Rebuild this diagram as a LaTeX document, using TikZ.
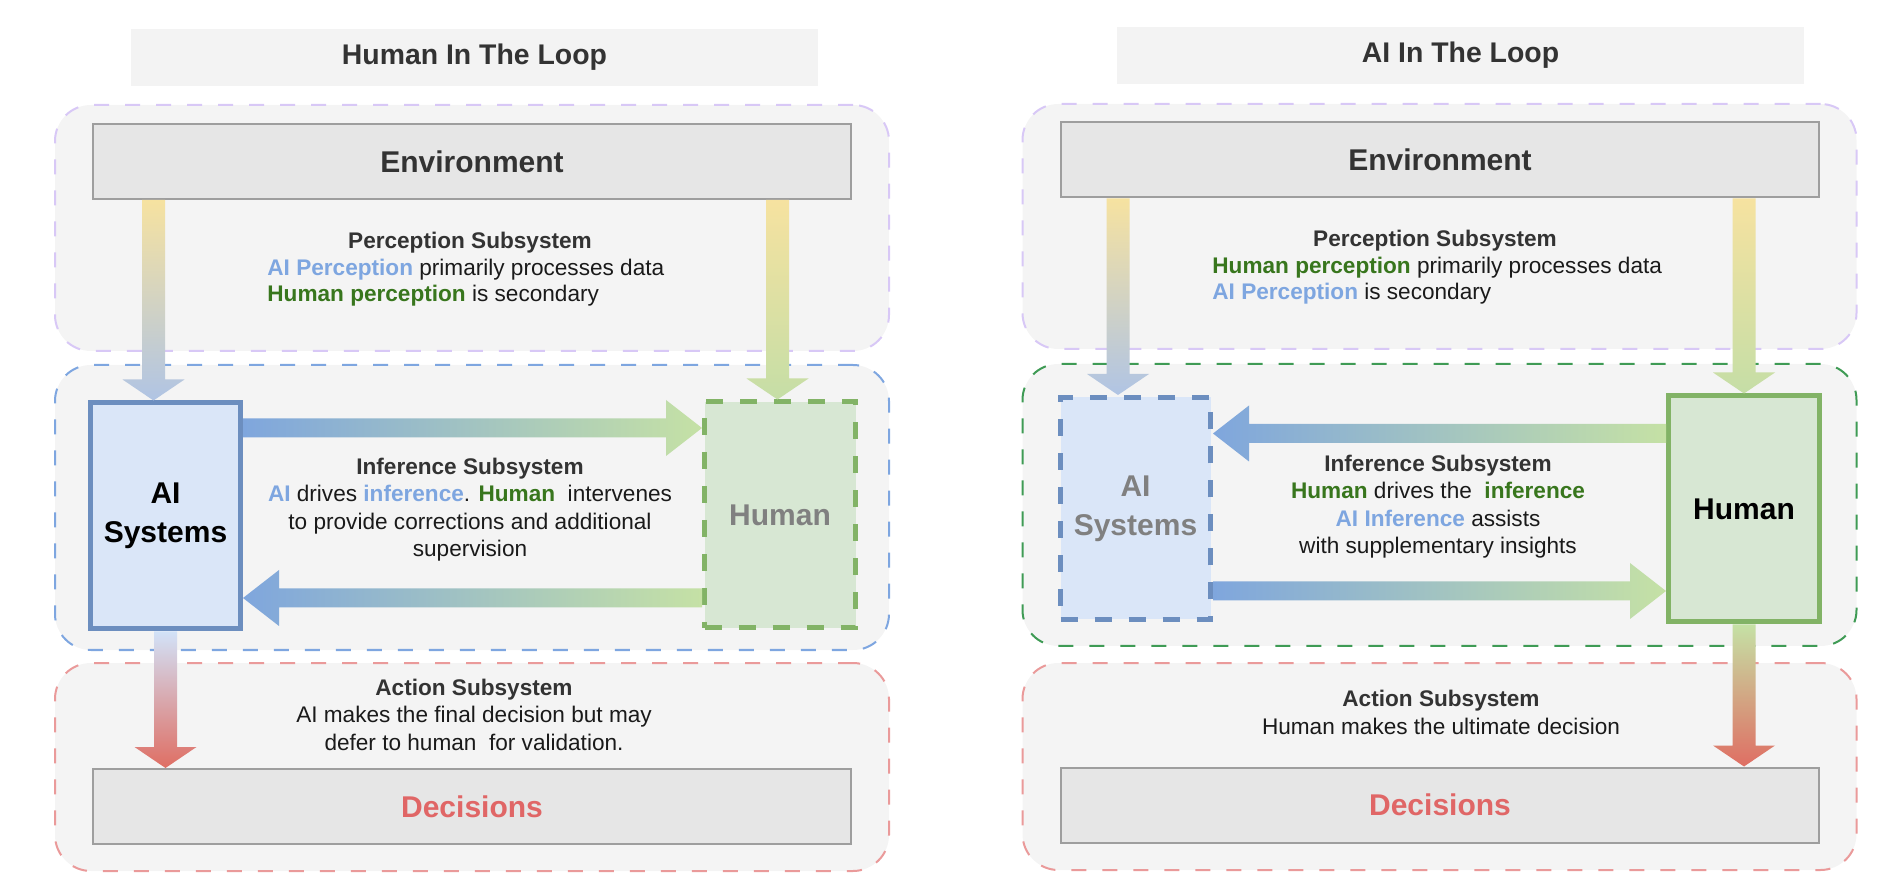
\documentclass[tikz,border=0pt]{standalone}
\usepackage{fontspec}
\setmainfont{Liberation Sans}
\usepackage{tikz}
\usetikzlibrary{positioning}
\usetikzlibrary{calc}

\definecolor{regfill}{HTML}{F4F4F4}
\definecolor{titlefill}{HTML}{F3F3F3}
\definecolor{envfill}{HTML}{E6E6E6}
\definecolor{envline}{HTML}{9E9E9E}
\definecolor{lavline}{HTML}{D8C8F6}
\definecolor{blueline}{HTML}{7EA6E0}
\definecolor{greenline}{HTML}{3F9B55}
\definecolor{redline}{HTML}{EA9A9A}
\definecolor{aifill}{HTML}{DAE6F8}
\definecolor{ailine}{HTML}{6C8EBF}
\definecolor{humfill}{HTML}{D7E7D3}
\definecolor{humline}{HTML}{82B366}
\definecolor{aitext}{HTML}{7EA6E0}
\definecolor{humtext}{HTML}{38761D}
\definecolor{dectext}{HTML}{E06666}
\definecolor{headtext}{HTML}{333333}
\definecolor{bodytext}{HTML}{1A1A1A}
\definecolor{graytext}{HTML}{808080}
\definecolor{envyellow}{HTML}{F6E2A0}
\definecolor{arrblue}{HTML}{B0C4E4}
\definecolor{arrgreen}{HTML}{C5DEA6}
\definecolor{hblue}{HTML}{7FA6DD}
\definecolor{hgreen}{HTML}{C5E1A5}
\definecolor{lightblue}{HTML}{D2E2F8}
\definecolor{arrred}{HTML}{DF6E63}

\newcommand{\vblockarrow}[4]{%
  \shade[top color=#3, bottom color=#4] let \p1=(#1), \p2=(#2) in
    (\x1-5.75pt,\y1) -- (\x1+5.75pt,\y1) -- (\x1+5.75pt,\y2+10.5pt) -- (\x1+15.5pt,\y2+10.5pt)
    -- (\x1,\y2) -- (\x1-15.5pt,\y2+10.5pt) -- (\x1-5.75pt,\y2+10.5pt) -- cycle;}
\newcommand{\hblockarrow}[4]{%
  \shade[left color=#3, right color=#4] let \p1=(#1), \p2=(#2), \n1={sign(\x2-\x1)*18} in
    (\x1,\y1+4.75pt) -- ({\x2-\n1*1pt},\y1+4.75pt) -- ({\x2-\n1*1pt},\y1+14pt) -- (\x2,\y1)
    -- ({\x2-\n1*1pt},\y1-14pt) -- ({\x2-\n1*1pt},\y1-4.75pt) -- (\x1,\y1-4.75pt) -- cycle;}

\begin{document}
\begin{tikzpicture}
		[x=0.5pt, y=-0.5pt,
		region/.style={draw=#1, fill=regfill, line width=1pt, dash pattern=on 7.5pt off 8pt, rounded corners=18pt, minimum width=417pt, inner sep=0pt},
		titlebox/.style={fill=titlefill, minimum width=343.5pt, minimum height=28.5pt, font=\fontsize{14.2}{17}\selectfont\bfseries, text=headtext},
		envbox/.style={draw=envline, fill=envfill, line width=1pt, minimum width=379pt, minimum height=37.5pt, font=\fontsize{15}{18}\selectfont\bfseries},
		aibox/.style={fill=aifill, draw=ailine, line width=2.5pt, minimum width=75pt, minimum height=113pt, align=center, font=\fontsize{15}{19.5}\selectfont\bfseries},
		humbox/.style={fill=humfill, draw=humline, line width=2.5pt, minimum width=75.5pt, minimum height=113pt, align=center, font=\fontsize{15}{19.5}\selectfont\bfseries},
		boxdash/.style={dash pattern=on 8.5pt off 8.5pt},
		subhead/.style={inner sep=0pt, font=\fontsize{11.3}{13.5}\selectfont\bfseries, text=headtext},
		textblock/.style={inner sep=0pt, font=\fontsize{11.3}{13.75}\selectfont, text=bodytext}]
		\useasboundingbox (0,0) rectangle (1890,892);

		% Human in the loop
		\node[titlebox] (titleL) at (474.5,57.5) {Human In The Loop};
		\node[region=lavline, minimum height=123pt] (percL) at (472,228) {};
		\node[region=blueline, minimum height=142.5pt] (infL) at (472,507.5) {};
		\node[region=redline, minimum height=104pt] (actL) at (472,767) {};
		\node[envbox, text=headtext] (envL) at (472,161.5) {Environment};
		\node[envbox, text=dectext] (decL) at (472,806.5) {Decisions};
		\node[aibox, text=black] (aiL) at (165.5,516) {AI\\Systems};
		\node[humbox, boxdash, text=graytext] (humL) at (780,515) {Human};

		\node[subhead] (percHeadL) at (470,243) {Perception Subsystem};
		\node[textblock, align=left, anchor=west, font=\fontsize{11.3}{13}\selectfont] (percTextL) at (267,283)
			{{\bfseries\color{aitext}AI Perception} primarily processes data\\{\bfseries\color{humtext}Human perception} is secondary};
		\node[textblock, align=center] (infTextL) at (470,509.5)
			{{\bfseries\color{headtext}Inference Subsystem}\\{\bfseries\color{aitext}AI} drives {\bfseries\color{aitext}inference}. {\bfseries\color{humtext}Human}\ \ intervenes\\to provide corrections and additional\\supervision};
		\node[textblock, align=center] (actTextL) at (474,714.5)
			{{\bfseries\color{headtext}Action Subsystem}\\AI makes the final decision but may\\defer to human\ \ for validation.};

		\vblockarrow{$(envL.south -| aiL.north)+(-12,0)$}{$(aiL.north)+(-12,0)$}{envyellow}{arrblue}
		\vblockarrow{$(envL.south -| humL.north)+(-2.5,0)$}{$(humL.north)+(-2.5,0)$}{envyellow}{arrgreen}
		\hblockarrow{$(aiL.north east)+(0,27.5)$}{$(humL.north west)+(0,27.5)$}{hblue}{hgreen}
		\hblockarrow{$(humL.south west)+(0,-32.5)$}{$(aiL.east |- humL.south)+(0,-32.5)$}{hblue}{hgreen}
		\vblockarrow{aiL.south}{aiL.south |- decL.north}{lightblue}{arrred}

		% AI in the loop
		\node[titlebox] (titleR) at (1460.5,55.5) {AI In The Loop};
		\node[region=lavline, minimum height=122.5pt] (percR) at (1439.5,226.5) {};
		\node[region=greenline, minimum height=141pt] (infR) at (1439.5,505) {};
		\node[region=redline, minimum height=103.5pt] (actR) at (1439.5,766.5) {};
		\node[envbox, text=headtext] (envR) at (1440,160) {Environment};
		\node[envbox, text=dectext] (decR) at (1440,805) {Decisions};
		\node[aibox, boxdash, minimum height=111pt, text=graytext] (aiR) at (1135.5,508.5) {AI\\Systems};
		\node[humbox, text=black] (humR) at (1744,509) {Human};

		\node[subhead] (percHeadR) at (1435,241) {Perception Subsystem};
		\node[textblock, align=left, anchor=west, font=\fontsize{11.3}{13}\selectfont] (percTextR) at (1212,281)
			{{\bfseries\color{humtext}Human perception} primarily processes data\\{\bfseries\color{aitext}AI Perception} is secondary};
		\node[textblock, align=center] (infTextR) at (1438,506.5)
			{{\bfseries\color{headtext}Inference Subsystem}\\{\bfseries\color{humtext}Human} drives the\ \ {\bfseries\color{humtext}inference}\\{\bfseries\color{aitext}AI Inference} assists\\with supplementary insights};
		\node[textblock, align=center] (actTextR) at (1441,712.5)
			{{\bfseries\color{headtext}Action Subsystem}\\Human makes the ultimate decision};

		\vblockarrow{$(envR.south -| aiR.north)+(-17.5,0)$}{$(aiR.north)+(-17.5,0)$}{envyellow}{arrblue}
		\vblockarrow{envR.south -| humR.north}{humR.north}{envyellow}{arrgreen}
		\hblockarrow{$(humR.north west)+(0,40)$}{$(aiR.east |- humR.north)+(0,40)$}{hblue}{hgreen}
		\hblockarrow{$(aiR.south east)+(0,-31)$}{$(humR.west |- aiR.south)+(0,-31)$}{hblue}{hgreen}
		\vblockarrow{humR.south}{humR.south |- decR.north}{hgreen}{arrred}
	\end{tikzpicture}
\end{document}
